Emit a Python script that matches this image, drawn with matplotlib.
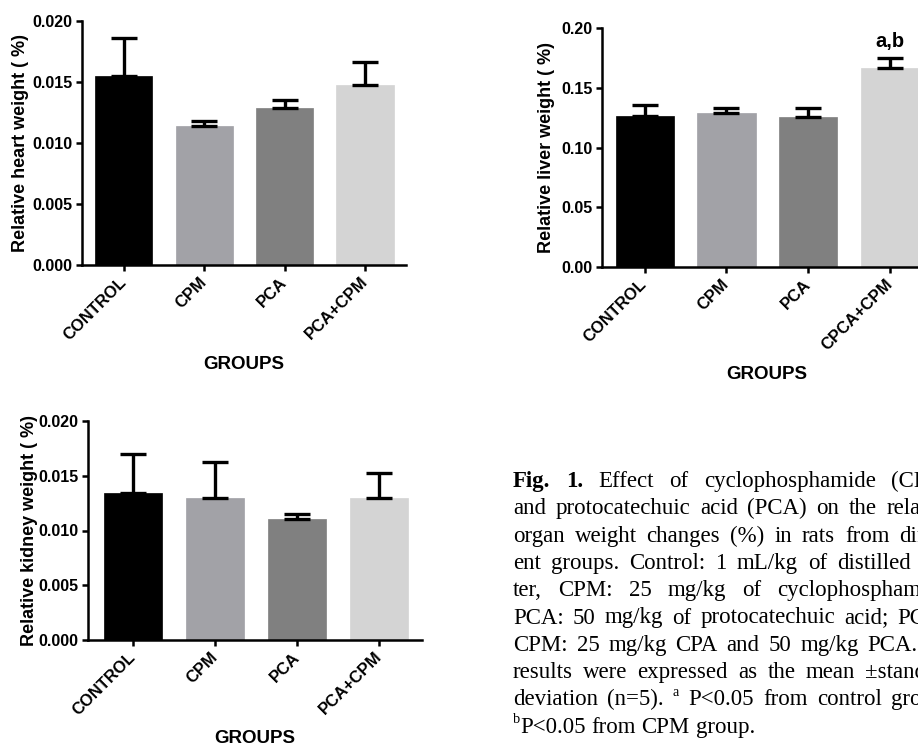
import matplotlib
matplotlib.use('Agg')
import matplotlib.pyplot as plt
from matplotlib.transforms import IdentityTransform
import numpy as np

# group names and organ weight data (mean, SD)
heart_groups = ['CONTROL', 'CPM', 'PCA', 'PCA+CPM']
liver_groups = ['CONTROL', 'CPM', 'PCA', 'CPCA+CPM']
kidney_groups = ['CONTROL', 'CPM', 'PCA', 'PCA+CPM']

heart_mean = [0.01547, 0.01139, 0.01289, 0.01473]
heart_sd = [0.00316, 0.00039, 0.00063, 0.00188]
liver_mean = [0.1264, 0.1286, 0.1253, 0.1668]
liver_sd = [0.0092, 0.0042, 0.0080, 0.0084]
kidney_mean = [0.01347, 0.01295, 0.01101, 0.01295]
kidney_sd = [0.00349, 0.00331, 0.00054, 0.00231]
liver_marks = ['', '', '', 'a,b']

bar_colors = ['#000000', '#a2a2a7', '#808080', '#d4d4d4']

plt.rcParams['font.family'] = 'Liberation Sans'
plt.rcParams['font.weight'] = 'bold'

W, H = 918, 746
fig = plt.figure(figsize=(W / 100, H / 100), dpi=100)


def bar_panel(rect, groups, mean, sd, ylim, yticks, yfmt, ylabel, xlim, ylab_x, xlab_y, marks=None):
    left, top, right, bottom = rect
    ax = fig.add_axes([left / W, 1 - bottom / H, (right - left) / W, (bottom - top) / H])
    x = np.arange(len(groups))
    ax.bar(x, mean, width=0.71, color=bar_colors, edgecolor=bar_colors, linewidth=0.5, zorder=2)
    ax.errorbar(x, mean, yerr=[np.zeros(len(sd)), sd], fmt='none', ecolor='black',
                elinewidth=2.4, capsize=9.5, capthick=2.4, zorder=3)
    if marks:
        for xi, m, s, txt in zip(x, mean, sd, marks):
            if txt:
                ax.annotate(txt, (xi, m + s), xytext=(0, 5), textcoords='offset points',
                            ha='center', va='bottom', fontsize=14.5, fontweight='bold')
    ax.set_xlim(*xlim)
    ax.set_ylim(*ylim)
    ax.set_yticks(yticks)
    ax.set_yticklabels([yfmt % v for v in yticks])
    ax.set_xticks(x)
    ax.set_xticklabels(groups, rotation=45, ha='right', va='center', rotation_mode='anchor')
    for side in ['top', 'right']:
        ax.spines[side].set_visible(False)
    for side in ['left', 'bottom']:
        ax.spines[side].set_linewidth(1.8)
    ax.tick_params(direction='out', length=4.5, width=1.8, labelsize=11.5, pad=2.5)
    ax.tick_params(axis='x', labelsize=12, pad=6)
    ax.set_ylabel(ylabel, fontsize=13, fontweight='bold', va='center')
    ax.yaxis.set_label_coords(ylab_x, 0.5)
    ax.set_xlabel('GROUPS', fontsize=13.5, fontweight='bold')
    ax.xaxis.set_label_coords(0.5, xlab_y)
    return ax


bar_panel((82, 21, 406, 265), heart_groups, heart_mean, heart_sd, (0, 0.020),
          [0, 0.005, 0.010, 0.015, 0.020], '%.3f', 'Relative heart weight ( %)',
          (-0.52, 3.51), -0.189, -0.371)
bar_panel((602, 28, 932, 267), liver_groups, liver_mean, liver_sd, (0, 0.20),
          [0, 0.05, 0.10, 0.15, 0.20], '%.2f', 'Relative liver weight ( %)',
          (-0.52, 3.51), -0.168, -0.416, marks=liver_marks)
bar_panel((88, 421, 422, 640), kidney_groups, kidney_mean, kidney_sd, (0, 0.020),
          [0, 0.005, 0.010, 0.015, 0.020], '%.3f', 'Relative kidney weight ( %)',
          (-0.55, 3.52), -0.175, -0.413)

# justified figure caption, drawn word by word in pixel coordinates
caption = [
    [[('Fig.', 'b')], [('1.', 'b')], [('Effect', 'n')], [('of', 'n')],
     [('cyclophosphamide', 'n')], [('(CPM)', 'n')]],
    'and protocatechuic acid (PCA) on the relative',
    'organ weight changes (%) in rats from differ-',
    'ent groups. Control: 1 mL/kg of distilled wa-',
    'ter, CPM: 25 mg/kg of cyclophosphamide;',
    'PCA: 50 mg/kg of protocatechuic acid; PCA+',
    'CPM: 25 mg/kg CPA and 50 mg/kg PCA. The',
    'results were expressed as the mean \u00b1standard',
    [[('deviation', 'n')], [('(n=5).', 'n')], [('a', 's')], [('P<0.05', 'n')],
     [('from', 'n')], [('control', 'n')], [('group.', 'n')]],
    [[('b', 's'), ('P<0.05', 'n')], [('from', 'n')], [('CPM', 'n')], [('group.', 'n')]],
]
line_right = [955, 955, 957, 955, 955, 955, 962, 955, 950, None]

cap_left = 513
cap_base, cap_step = 487, 27.3
fs = 16.5
fs_px = fs * 100 / 72
renderer = fig.canvas.get_renderer()


def seg_kwargs(kind):
    kw = dict(family='Liberation Serif', fontweight='normal', fontsize=fs)
    if kind == 'b':
        kw['fontweight'] = 'bold'
    if kind == 's':
        kw['fontsize'] = fs * 0.62
    return kw


def seg_width(text, kind):
    t = fig.text(0, 0, text, transform=IdentityTransform(), **seg_kwargs(kind))
    w = t.get_window_extent(renderer).width
    t.remove()
    return w


for i, line in enumerate(caption):
    if isinstance(line, str):
        words = [[(w, 'n')] for w in line.split(' ')]
    else:
        words = line
    widths = [sum(seg_width(t, k) for t, k in word) for word in words]
    right = line_right[i]
    if right is None:
        gap = fs_px * 0.25
    else:
        gap = (right - cap_left - sum(widths)) / (len(words) - 1)
    y = H - (cap_base + i * cap_step)
    x = cap_left
    for word, w in zip(words, widths):
        xs = x
        for t, k in word:
            dy = fs_px * 0.42 if k == 's' else 0
            fig.text(xs, y + dy, t, transform=IdentityTransform(), ha='left', va='baseline',
                     **seg_kwargs(k))
            xs += seg_width(t, k)
        x += w + gap

fig.savefig('out.png', dpi=100)
